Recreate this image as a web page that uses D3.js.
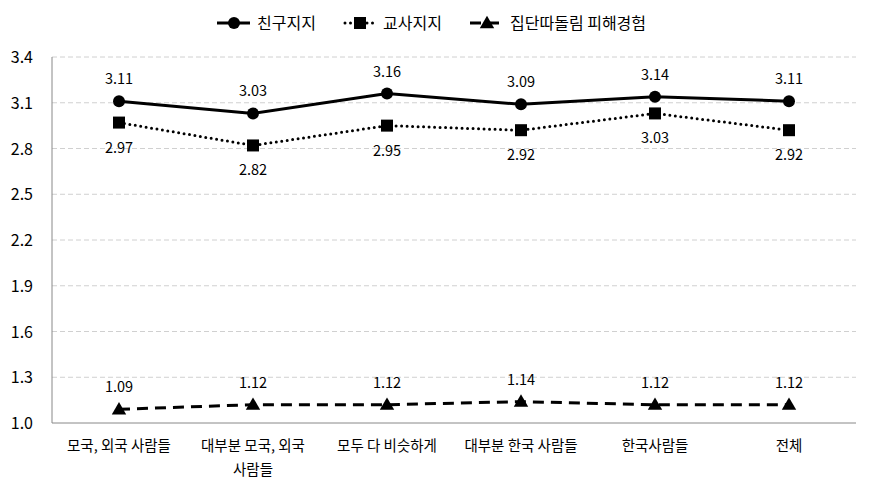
<!DOCTYPE html>
<html>
<head>
    <meta charset="utf-8">
    <script src="https://d3js.org/d3.v7.min.js"></script>
    <style>
        body { margin: 0; background: #fff; }
        text { font-family: "Noto Sans CJK KR", "Noto Sans", sans-serif; fill: #000; }
    </style>
</head>
<body>
    <svg width="871" height="493"></svg>
    <script>
        const categories = [["모국, 외국 사람들"], ["대부분 모국, 외국", "사람들"], ["모두 다 비슷하게"],
            ["대부분 한국 사람들"], ["한국사람들"], ["전체"]];
        const seriesNames = ["친구지지", "교사지지", "집단따돌림 피해경험"];
        const friend = [3.11, 3.03, 3.16, 3.09, 3.14, 3.11];
        const teacher = [2.97, 2.82, 2.95, 2.92, 3.03, 2.92];
        const bully = [1.09, 1.12, 1.12, 1.14, 1.12, 1.12];
        const yTicks = [1.0, 1.3, 1.6, 1.9, 2.2, 2.5, 2.8, 3.1, 3.4];

        const plotLeft = 52, plotRight = 856, plotTop = 57, plotBottom = 423;
        const svg = d3.select("svg");

        const x = d3.scaleBand().domain(d3.range(categories.length)).range([plotLeft, plotRight]);
        const y = d3.scaleLinear().domain([1.0, 3.4]).range([plotBottom, plotTop]);
        const cx = i => x(i) + x.bandwidth() / 2;

        // gridlines
        svg.append("g").selectAll("line")
            .data(yTicks.slice(1))
            .enter().append("line")
            .attr("x1", plotLeft).attr("x2", plotRight)
            .attr("y1", d => y(d)).attr("y2", d => y(d))
            .attr("stroke", "#d0d0d0").attr("stroke-dasharray", "5,3");

        // axes lines
        svg.append("line").attr("x1", plotLeft).attr("x2", plotLeft).attr("y1", plotTop).attr("y2", plotBottom)
            .attr("stroke", "#888");
        svg.append("line").attr("x1", plotLeft).attr("x2", plotRight).attr("y1", plotBottom).attr("y2", plotBottom)
            .attr("stroke", "#888");

        // y tick labels
        svg.append("g").selectAll("text")
            .data(yTicks)
            .enter().append("text")
            .attr("x", 33).attr("y", d => y(d) + 6)
            .attr("text-anchor", "end")
            .style("font-size", "16px")
            .text(d => d.toFixed(1));

        // x labels
        const xl = svg.append("g").selectAll("text")
            .data(categories)
            .enter().append("text")
            .attr("x", (d, i) => cx(i))
            .attr("y", 451)
            .attr("text-anchor", "middle")
            .style("font-size", "14.5px");
        xl.selectAll("tspan")
            .data(d => d)
            .enter().append("tspan")
            .attr("x", function () { return d3.select(this.parentNode).attr("x"); })
            .attr("dy", (d, j) => j === 0 ? 0 : 24)
            .text(d => d);

        const line = d3.line().x((d, i) => cx(i)).y(d => y(d));
        const styles = [
            { data: friend, dash: null, cap: "butt", marker: "circle", labelDy: -17 },
            { data: teacher, dash: "0,5.5", cap: "round", marker: "square", labelDy: 30 },
            { data: bully, dash: "11,7", cap: "butt", marker: "triangle", labelDy: -17 }
        ];

        function drawMarker(g, type, px, py) {
            if (type === "circle") {
                g.append("circle").attr("cx", px).attr("cy", py).attr("r", 6).attr("fill", "#000");
            } else if (type === "square") {
                g.append("rect").attr("x", px - 6).attr("y", py - 6).attr("width", 12).attr("height", 12)
                    .attr("fill", "#000");
            } else {
                g.append("path")
                    .attr("d", d3.symbol().type(d3.symbolTriangle).size(90)())
                    .attr("transform", "translate(" + px + "," + (py + 1) + ")")
                    .attr("fill", "#000");
            }
        }

        styles.forEach(s => {
            svg.append("path")
                .datum(s.data)
                .attr("d", line)
                .attr("fill", "none")
                .attr("stroke", "#000")
                .attr("stroke-width", 3)
                .attr("stroke-dasharray", s.dash)
                .attr("stroke-linecap", s.cap);
            const g = svg.append("g");
            s.data.forEach((v, i) => drawMarker(g, s.marker, cx(i), y(v)));
            svg.append("g").selectAll("text")
                .data(s.data)
                .enter().append("text")
                .attr("x", (d, i) => cx(i))
                .attr("y", d => y(d) + s.labelDy)
                .attr("text-anchor", "middle")
                .style("font-size", "14.5px")
                .text(d => d.toFixed(2));
        });

        // legend
        const legendX = [217, 343, 470];
        const legendY = 23;
        seriesNames.forEach((name, i) => {
            const s = styles[i];
            const g = svg.append("g");
            g.append("line")
                .attr("x1", legendX[i] + (s.cap === "round" ? 2 : 0)).attr("x2", legendX[i] + 33)
                .attr("y1", legendY).attr("y2", legendY)
                .attr("stroke", "#000").attr("stroke-width", 3)
                .attr("stroke-dasharray", s.dash)
                .attr("stroke-linecap", s.cap);
            drawMarker(g, s.marker, legendX[i] + 17, legendY);
            g.append("text")
                .attr("x", legendX[i] + 40).attr("y", legendY + 6)
                .style("font-size", "16px")
                .text(name);
        });
    </script>
</body>
</html>
